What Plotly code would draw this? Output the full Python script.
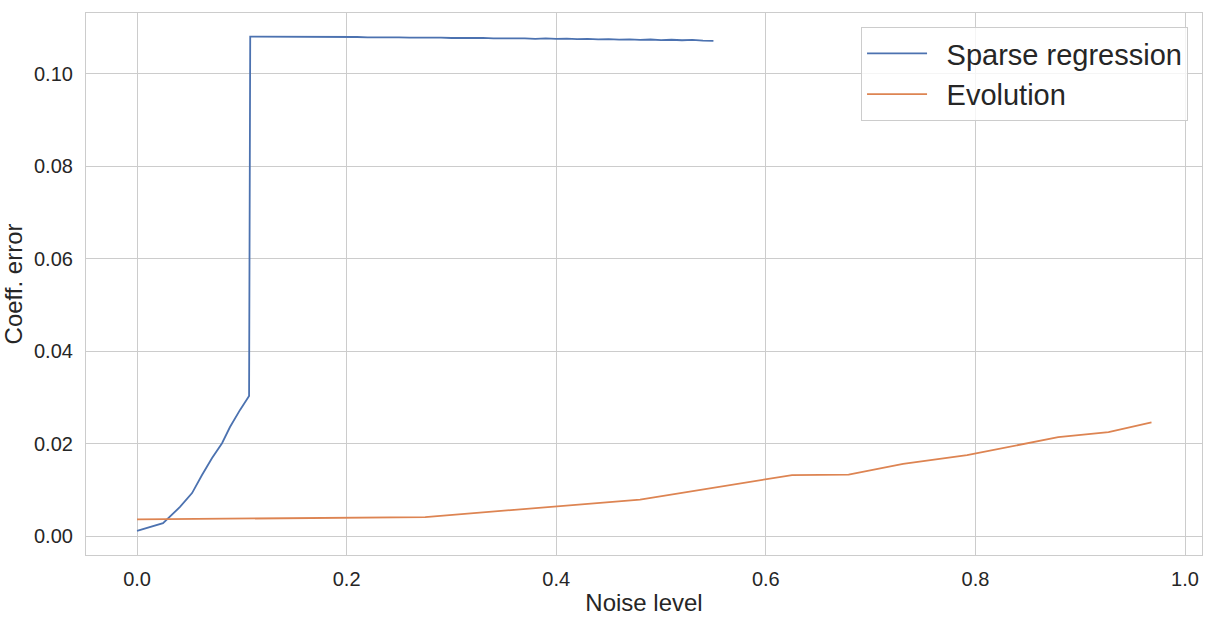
import plotly.graph_objects as go

# Sparse regression: rising part then a jump and a slowly decaying, jittery plateau
sparse_x = [0.0, 0.0248, 0.041, 0.0525, 0.062, 0.0716, 0.0811, 0.0887, 0.0983, 0.1069, 0.108,
            0.12, 0.14, 0.16, 0.18, 0.20, 0.21, 0.22, 0.23, 0.24, 0.25, 0.26, 0.27, 0.28, 0.29,
            0.30, 0.31, 0.32, 0.33, 0.34, 0.35, 0.36, 0.37, 0.38, 0.39, 0.40, 0.41, 0.42, 0.43,
            0.44, 0.45, 0.46, 0.47, 0.48, 0.49, 0.50, 0.51, 0.52, 0.53, 0.54, 0.55]
sparse_y = [0.0011, 0.0028, 0.0063, 0.0093, 0.0132, 0.0169, 0.0201, 0.0236, 0.0273, 0.0303, 0.1081,
            0.10810, 0.10808, 0.10806, 0.10802, 0.10798, 0.10801, 0.10793, 0.10797, 0.10789, 0.10794,
            0.10786, 0.10791, 0.10782, 0.10788, 0.10779, 0.10784, 0.10774, 0.10781, 0.10770, 0.10776,
            0.10768, 0.10772, 0.10762, 0.10769, 0.10758, 0.10764, 0.10753, 0.10760, 0.10749, 0.10755,
            0.10744, 0.10751, 0.10740, 0.10746, 0.10735, 0.10741, 0.10730, 0.10737, 0.10722, 0.10715]

# Evolution
evo_x = [0.0, 0.275, 0.48, 0.625, 0.679, 0.731, 0.792, 0.879, 0.927, 0.968]
evo_y = [0.0036, 0.0041, 0.0079, 0.0132, 0.0133, 0.0156, 0.0175, 0.0214, 0.0225, 0.0246]

series_names = ["Sparse regression", "Evolution"]
x_ticks = [0.0, 0.2, 0.4, 0.6, 0.8, 1.0]
y_ticks = [0.00, 0.02, 0.04, 0.06, 0.08, 0.10]

FONT = "Liberation Sans, Arial, sans-serif"
TXT = "#262626"
GRID = "#cccccc"
PAD = "\u2002"

fig = go.Figure()
fig.add_trace(go.Scatter(x=sparse_x, y=sparse_y, mode="lines", name=PAD + series_names[0],
                         line=dict(color="#4c72b0", width=1.8)))
fig.add_trace(go.Scatter(x=evo_x, y=evo_y, mode="lines", name=PAD + series_names[1],
                         line=dict(color="#dd8452", width=1.8)))

fig.update_layout(
    width=1215, height=620,
    margin=dict(l=86, r=13, t=13, b=65, autoexpand=False),
    paper_bgcolor="white", plot_bgcolor="white",
    font=dict(family=FONT, color=TXT, size=20),
    showlegend=True,
    legend=dict(x=0.9875, y=0.974, xanchor="right", yanchor="top",
                bgcolor="rgba(255,255,255,0.8)", bordercolor=GRID, borderwidth=1,
                font=dict(size=29, color=TXT), itemwidth=60,
                tracegroupgap=0),
)
fig.update_xaxes(range=[-0.0487, 1.0162], tickvals=x_ticks, tickformat=".1f",
                 showgrid=True, gridcolor=GRID, gridwidth=1, zeroline=False,
                 showline=True, mirror=True, linecolor=GRID, linewidth=1.2,
                 ticks="", ticklabelstandoff=6, automargin=False,
                 tickfont=dict(size=20, color=TXT),
                 title=dict(text="Noise level", font=dict(size=24, color=TXT), standoff=5))
fig.update_yaxes(range=[-0.0041, 0.1132], tickvals=y_ticks, tickformat=".2f",
                 showgrid=True, gridcolor=GRID, gridwidth=1, zeroline=False,
                 showline=True, mirror=True, linecolor=GRID, linewidth=1.2,
                 ticks="", ticklabelstandoff=8, automargin=False,
                 tickfont=dict(size=20, color=TXT),
                 title=dict(text="Coeff. error", font=dict(size=24, color=TXT), standoff=6))

fig.write_html("out.html")
